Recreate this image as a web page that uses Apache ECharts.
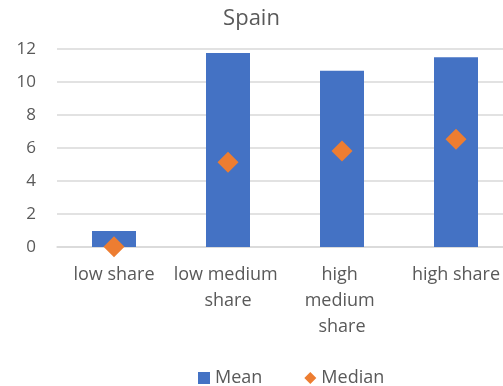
<!DOCTYPE html>
<html><head><meta charset="utf-8">
<script src="https://cdn.jsdelivr.net/npm/echarts@6/dist/echarts.min.js"></script>
<style>html,body{margin:0;padding:0;background:#fff}#c{width:503px;height:386px}</style>
</head><body><div id="c"></div>
<script>
var categories = ['low share', 'low medium share', 'high medium share', 'high share'];
var meanValues = [0.97, 11.76, 10.68, 11.5];
var medianValues = [0.02, 5.13, 5.82, 6.53];
var yTicks = [0, 2, 4, 6, 8, 10, 12];

var font = 'Open Sans';
var chart = echarts.init(document.getElementById('c'));
chart.setOption({
  animation: false,
  title: {text: 'Spain', left: 'center', top: 3, textStyle: {fontFamily: font, fontSize: 22, fontWeight: 'normal', color: '#595959'}},
  grid: {left: 57, width: 456, top: 49, height: 198, outerBoundsMode: 'none', containLabel: false},
  legend: {
    top: 364, left: 193, itemGap: 42, itemWidth: 12, itemHeight: 12,
    textStyle: {fontFamily: font, fontSize: 18, color: '#595959'},
    data: [{name: 'Mean', icon: 'rect'}, {name: 'Median', icon: 'diamond'}]
  },
  xAxis: {
    type: 'category', data: categories,
    axisLine: {show: true, lineStyle: {color: '#d9d9d9', width: 1.5}},
    axisTick: {show: false},
    axisLabel: {fontFamily: font, fontSize: 18, color: '#595959', margin: 15, width: 110, overflow: 'break', lineHeight: 26, interval: 0}
  },
  yAxis: {
    type: 'value', min: yTicks[0], max: yTicks[yTicks.length - 1], interval: 2,
    axisLine: {show: false}, axisTick: {show: false},
    splitLine: {lineStyle: {color: '#d9d9d9', width: 1.5}},
    axisLabel: {fontFamily: font, fontSize: 17, color: '#595959', margin: 21}
  },
  series: [
    {name: 'Mean', type: 'bar', data: meanValues, barWidth: 44, itemStyle: {color: '#4472C4'}, z: 2},
    {name: 'Median', type: 'scatter', data: medianValues, symbol: 'diamond', symbolSize: 21, itemStyle: {color: '#ED7D31', opacity: 1}, z: 3}
  ]
});
</script></body></html>
